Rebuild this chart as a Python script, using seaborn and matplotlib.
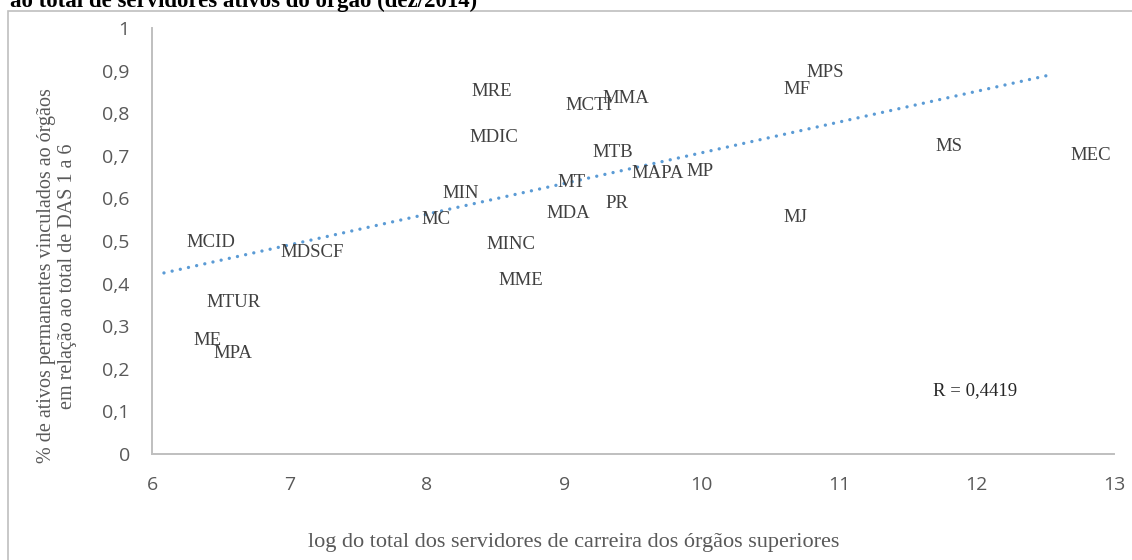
import numpy as np
import pandas as pd
import seaborn as sns
import matplotlib.pyplot as plt
from matplotlib.patches import Rectangle

# órgãos e valores
orgaos = ["MRE", "MDIC", "MIN", "MC", "MCID", "MDSCF", "MINC", "MME",
          "MTUR", "ME", "MPA", "MDA", "MT", "MCTI", "MMA", "MPS", "MF",
          "MTB", "MAPA", "MP", "PR", "MJ", "MS", "MEC"]
log_servidores = [8.156, 8.141, 7.945, 7.792, 6.087, 6.765, 8.265, 8.353,
                  6.226, 6.138, 6.277, 8.702, 8.782, 8.840, 9.110, 10.596,
                  10.428, 9.037, 9.321, 9.722, 9.132, 10.428, 11.535, 12.519]
pct_ativos = [0.850, 0.744, 0.612, 0.551, 0.496, 0.472, 0.492, 0.407,
              0.355, 0.266, 0.235, 0.565, 0.638, 0.819, 0.835, 0.896,
              0.856, 0.708, 0.659, 0.664, 0.588, 0.555, 0.722, 0.701]

x_ticks = [6, 7, 8, 9, 10, 11, 12, 13]
y_ticks = [0, 0.1, 0.2, 0.3, 0.4, 0.5, 0.6, 0.7, 0.8, 0.9, 1]

df = pd.DataFrame({"orgao": orgaos, "x": log_servidores, "y": pct_ativos})

sns.set_style("white")
plt.rcParams["font.family"] = ["Liberation Serif", "DejaVu Serif"]

W, H = 1132, 560
fig = plt.figure(figsize=(W / 100, H / 100), dpi=100)
ax = fig.add_axes([152 / W, 106 / H, 962 / W, 426 / H])

# linha de tendência (regressão linear)
sns.regplot(data=df, x="x", y="y", scatter=False, ci=None, truncate=True, ax=ax,
            line_kws=dict(color="#5B9BD5", lw=2.4, ls=(0, (0.01, 2.5)),
                          dash_capstyle="round"))

# rótulos dos pontos (à direita do ponto, sem marcador)
for _, r in df.iterrows():
    ax.annotate(r["orgao"], (r["x"], r["y"]), xytext=(16.5, 0),
                textcoords="offset points", ha="left", va="center",
                fontsize=13.5, color="#404040")

ax.set_xlim(6, 13)
ax.set_ylim(0, 1)
ax.set_xticks(x_ticks)
ax.set_yticks(y_ticks)
ax.set_xticklabels([str(v) for v in x_ticks])
ax.set_yticklabels([("%g" % v).replace(".", ",") for v in y_ticks])
for lab in ax.get_xticklabels() + ax.get_yticklabels():
    lab.set_fontfamily(["Open Sans", "DejaVu Sans"])
    lab.set_fontsize(14)
    lab.set_color("#595959")
ax.tick_params(axis="both", length=0)
ax.tick_params(axis="y", pad=16)
ax.tick_params(axis="x", pad=16)
ax.set_xlabel("")
ax.set_ylabel("")

sns.despine(ax=ax)
for s in ["left", "bottom"]:
    ax.spines[s].set_color("#BFBFBF")
    ax.spines[s].set_linewidth(1.4)

ax.text((933 - 152) / 962, (454 - 391) / 426, "R = 0,4419",
        transform=ax.transAxes, ha="left", va="center",
        fontsize=13.5, color="#262626")

# títulos dos eixos
fig.text(57 / W, 1 - 276 / H,
         "% de ativos permanentes vinculados ao órgãos\nem relação ao total de DAS 1 a 6",
         rotation=90, ha="center", va="center", fontsize=14.5, color="#595959",
         linespacing=1.2)
fig.text(574 / W, 1 - 542 / H,
         "log do total dos servidores de carreira dos órgãos superiores",
         ha="center", va="center", fontsize=16, color="#595959")

# título cortado no topo
fig.text(10 / W, 1 - 7 / H, "ao total de servidores ativos do órgão (dez/2014)",
         ha="left", va="baseline", fontsize=16.5, fontweight="bold", color="black")

# borda da área do gráfico
fig.patches.append(Rectangle((8 / W, -0.1), 1.1, 1.1 - 11 / H,
                             transform=fig.transFigure, fill=False,
                             edgecolor="#BFBFBF", lw=1.2))

fig.savefig("out.png", dpi=100)
